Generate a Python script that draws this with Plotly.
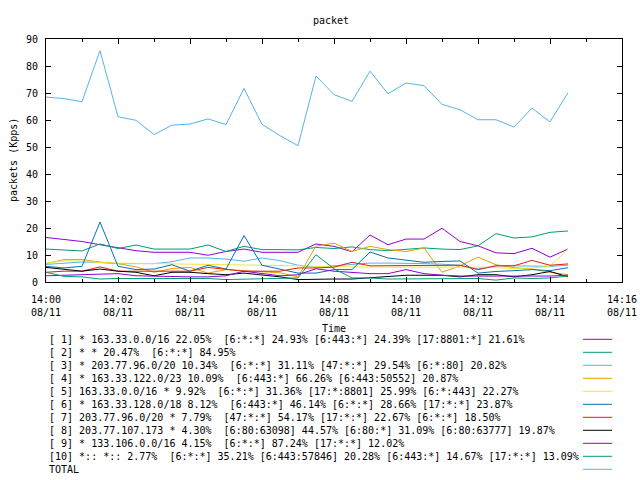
import plotly.graph_objects as go

# ---- data ----
DATE = "2014-08-11 "
TIMES = ["14:00:00", "14:00:30", "14:01:00", "14:01:30", "14:02:00", "14:02:30",
         "14:03:00", "14:03:30", "14:04:00", "14:04:30", "14:05:00", "14:05:30",
         "14:06:00", "14:06:30", "14:07:00", "14:07:30", "14:08:00", "14:08:30",
         "14:09:00", "14:09:30", "14:10:00", "14:10:30", "14:11:00", "14:11:30",
         "14:12:00", "14:12:30", "14:13:00", "14:13:30", "14:14:00", "14:14:30"]

S1 = [16.5, 15.8, 15.0, 13.8, 12.6, 11.6, 11.0, 11.0, 11.0, 9.9, 11.3, 12.2, 11.0, 11.0, 11.0,
      14.1, 13.2, 11.2, 17.4, 13.8, 15.9, 15.9, 19.9, 15.0, 13.4, 10.8, 10.5, 12.5, 9.2, 12.2]
S2 = [12.2, 11.8, 11.5, 14.1, 12.4, 13.7, 12.2, 12.2, 12.2, 13.7, 11.3, 13.2, 12.0, 12.0, 11.9,
      12.8, 12.4, 13.0, 12.0, 11.6, 12.2, 12.6, 12.2, 12.0, 13.4, 17.9, 16.3, 16.7, 18.4, 18.9]
S3 = [6.5, 6.9, 7.4, 7.2, 6.8, 6.8, 6.8, 7.5, 8.9, 8.9, 8.5, 7.7, 8.9, 7.9, 6.2,
      5.5, 6.0, 6.5, 7.0, 7.0, 7.0, 6.8, 6.6, 6.2, 4.8, 6.0, 6.0, 6.0, 5.8, 6.2]
S4 = [6.8, 8.3, 8.3, 7.4, 6.8, 5.6, 3.6, 5.0, 5.4, 3.3, 4.6, 4.2, 4.0, 3.4, 1.9,
      13.3, 14.4, 11.3, 13.2, 12.0, 11.3, 12.6, 3.6, 6.0, 9.2, 6.4, 5.3, 4.8, 3.6, 2.7]
S5 = [7.0, 7.8, 7.8, 7.2, 7.0, 6.9, 6.8, 6.8, 6.6, 6.5, 6.5, 6.5, 6.4, 6.3, 6.0,
      5.8, 5.6, 5.6, 5.5, 5.5, 5.5, 5.5, 5.6, 5.5, 5.5, 5.3, 5.0, 5.2, 5.8, 12.2]
S6 = [5.8, 5.2, 5.8, 22.2, 5.8, 4.6, 4.8, 6.4, 4.0, 6.2, 4.8, 17.2, 6.2, 4.8, 3.3,
      3.3, 4.6, 4.6, 11.1, 8.9, 8.0, 7.3, 7.6, 7.8, 3.3, 3.9, 4.2, 4.6, 4.2, 5.3]
S7 = [3.6, 4.0, 4.0, 5.6, 4.0, 4.0, 4.0, 4.0, 4.0, 5.4, 4.8, 4.0, 4.0, 4.0, 5.2,
      5.2, 5.5, 7.3, 6.0, 6.0, 6.2, 6.2, 6.0, 6.2, 4.6, 6.0, 6.0, 8.0, 6.2, 6.7]
S8 = [5.4, 4.8, 4.0, 4.8, 4.0, 3.6, 2.3, 3.6, 3.6, 3.1, 2.7, 3.3, 2.7, 1.9, 0.9,
      1.1, 1.1, 1.1, 1.5, 1.9, 2.5, 2.5, 2.5, 1.9, 2.7, 2.7, 1.9, 2.7, 3.9, 1.9]
S9 = [2.3, 2.5, 2.8, 3.1, 3.1, 2.3, 2.1, 1.9, 1.9, 1.9, 2.3, 4.0, 3.1, 2.3, 2.7,
      4.9, 4.0, 3.6, 3.1, 3.1, 4.6, 3.1, 2.5, 2.2, 2.2, 2.2, 2.2, 2.2, 2.2, 2.5]
S10 = [3.6, 2.1, 1.9, 1.1, 1.3, 1.3, 1.3, 1.3, 1.3, 1.3, 0.9, 1.1, 1.3, 1.3, 1.5,
       10.1, 4.9, 1.5, 1.5, 1.1, 1.1, 1.1, 1.1, 1.1, 1.3, 0.7, 1.5, 1.3, 1.5, 2.2]
TOTAL = [68.5, 67.9, 66.8, 85.7, 61.2, 59.9, 54.6, 58.1, 58.5, 60.4, 58.3, 71.7, 58.4, 54.2, 50.5,
         76.3, 69.4, 66.9, 78.1, 69.7, 73.7, 72.7, 65.8, 63.8, 60.1, 60.1, 57.4, 64.4, 59.3, 70.1]

LABELS = [
    "[ 1] * 163.33.0.0/16 22.05%  [6:*:*] 24.93% [6:443:*] 24.39% [17:8801:*] 21.61%",
    "[ 2] * * 20.47%  [6:*:*] 84.95%",
    "[ 3] * 203.77.96.0/20 10.34%  [6:*:*] 31.11% [47:*:*] 29.54% [6:*:80] 20.82%",
    "[ 4] * 163.33.122.0/23 10.09%  [6:443:*] 66.26% [6:443:50552] 20.87%",
    "[ 5] 163.33.0.0/16 * 9.92%  [6:*:*] 31.36% [17:*:8801] 25.99% [6:*:443] 22.27%",
    "[ 6] * 163.33.128.0/18 8.12%  [6:443:*] 46.14% [6:*:*] 28.66% [17:*:*] 23.87%",
    "[ 7] 203.77.96.0/20 * 7.79%  [47:*:*] 54.17% [17:*:*] 22.67% [6:*:*] 18.50%",
    "[ 8] 203.77.107.173 * 4.30%  [6:80:63098] 44.57% [6:80:*] 31.09% [6:80:63777] 19.87%",
    "[ 9] * 133.106.0.0/16 4.15%  [6:*:*] 87.24% [17:*:*] 12.02%",
    "[10] *:: *:: 2.77%  [6:*:*] 35.21% [6:443:57846] 20.28% [6:443:*] 14.67% [17:*:*] 13.09%",
    "TOTAL",
]
SERIES = [S1, S2, S3, S4, S5, S6, S7, S8, S9, S10, TOTAL]
COLORS = ["#9400d3", "#009e73", "#56b4e9", "#e69f00", "#f0e442", "#0072b2",
          "#e51e10", "#000000", "#9400d3", "#009e73", "#56b4e9"]

TICK_TIMES = ["14:00", "14:02", "14:04", "14:06", "14:08", "14:10", "14:12", "14:14", "14:16"]
TICK_DAY = "08/11"
Y_TICKS = [0, 10, 20, 30, 40, 50, 60, 70, 80, 90]

# ---- layout geometry (pixels) ----
W, H = 640, 480
L, R, T, B = 46, 18, 39, 198
PW, PH = W - L - R, H - T - B
FONT = "DejaVu Sans Mono"


def px(x):
    return (x - L) / PW


def py(y):
    return (H - B - y) / PH


x_vals = [DATE + t for t in TIMES]

fig = go.Figure()
for s, c, lab in zip(SERIES, COLORS, LABELS):
    fig.add_trace(go.Scatter(x=x_vals, y=s, mode="lines", name=lab,
                             line=dict(color=c, width=1), showlegend=False))

fig.update_layout(
    width=W, height=H, autosize=False,
    margin=dict(l=L, r=R, t=T, b=B, pad=0, autoexpand=False),
    paper_bgcolor="white", plot_bgcolor="white",
    font=dict(family=FONT, size=10, color="black"),
    showlegend=False,
)
fig.update_xaxes(
    type="date", automargin=False,
    range=[DATE + "14:00", DATE + "14:16"],
    tickvals=[DATE + t for t in TICK_TIMES],
    ticktext=[t + "<br>" + TICK_DAY for t in TICK_TIMES],
    ticks="inside", ticklen=5, tickcolor="black", tickwidth=1,
    minor=dict(dtick=60000, ticks="inside", ticklen=3, tickcolor="black", tickwidth=1, showgrid=False),
    showline=True, linecolor="black", linewidth=1, mirror="ticks",
    showgrid=False, zeroline=False,
    ticklabelstandoff=8,
    tickfont=dict(family=FONT, size=10, color="black"),
)
fig.update_yaxes(
    automargin=False,
    range=[0, 90], tickvals=Y_TICKS,
    ticks="inside", ticklen=5, tickcolor="black", tickwidth=1,
    showline=True, linecolor="black", linewidth=1, mirror="ticks",
    showgrid=False, zeroline=False,
    ticklabelstandoff=5,
    tickfont=dict(family=FONT, size=10, color="black"),
)

ann = []
shapes = []
ann.append(dict(text="packet", x=px(330.5), y=py(20), xref="paper", yref="paper",
                xanchor="center", yanchor="middle", showarrow=False))
ann.append(dict(text="packets (Kpps)", x=px(13.5), y=py(160.5), xref="paper", yref="paper",
                xanchor="center", yanchor="middle", textangle=-90, showarrow=False))
ann.append(dict(text="Time", x=px(334), y=py(328), xref="paper", yref="paper",
                xanchor="center", yanchor="middle", showarrow=False))
for i, (lab, c) in enumerate(zip(LABELS, COLORS)):
    yrow = 339.3 + 13 * i
    ann.append(dict(text=lab.replace(" ", "\u00a0"), x=px(47), y=py(yrow), xref="paper", yref="paper",
                    xanchor="left", yanchor="middle", showarrow=False))
    shapes.append(dict(type="line", xref="paper", yref="paper",
                       x0=px(583), x1=px(612), y0=py(yrow), y1=py(yrow),
                       line=dict(color=c, width=1)))
fig.update_layout(annotations=ann, shapes=shapes)

fig.write_html("out.html", config={"displayModeBar": False},
               post_script="document.body.style.margin='0px';")
